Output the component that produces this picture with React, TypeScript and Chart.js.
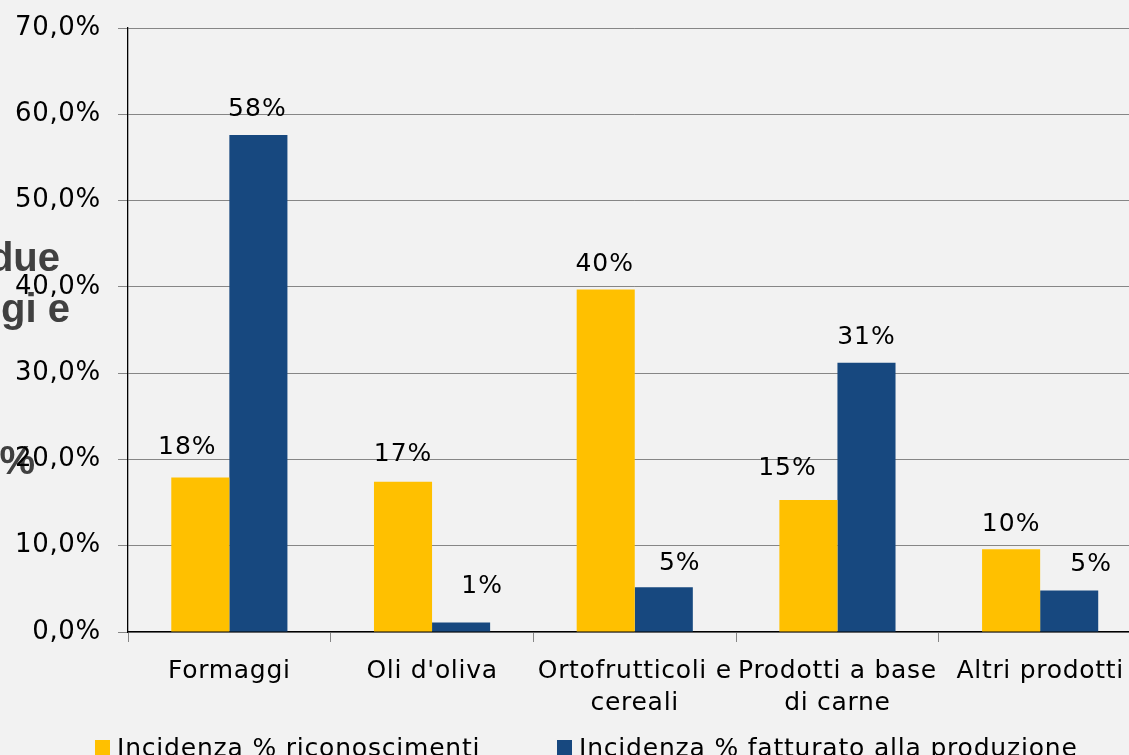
import React, { useEffect, useRef } from "react";
import { Chart, registerables } from "chart.js";

Chart.register(...registerables);

const categories: (string | string[])[] = [
  "Formaggi",
  "Oli d'oliva",
  ["Ortofrutticoli e", "cereali"],
  ["Prodotti a base", "di carne"],
  "Altri prodotti",
];
const seriesNames = [
  "Incidenza % riconoscimenti",
  "Incidenza % fatturato alla produzione",
];
const riconoscimenti = [17.9, 17.4, 39.7, 15.3, 9.6];
const fatturato = [57.6, 1.1, 5.2, 31.2, 4.8];
const yTicksMax = 70;
const yTickStep = 10;

const COLORS = ["#FFC000", "#17487F"];
const FONT = '"DejaVu Sans", Verdana, sans-serif';
const SPACING = "0.7px";

// label offsets (style only): dx, dy of label baseline relative to bar top centre
const labelDx = [
  [-13, 0, -1, -21, 0],
  [-1, 21, 16, 0, 22],
];
const labelDy = [
  [-24, -21, -18, -25, -18],
  [-19, -30, -17, -19, -20],
];

export default function App() {
  const ref = useRef<HTMLCanvasElement>(null);

  useEffect(() => {
    document.body.style.margin = "0";
    document.body.style.background = "#f2f2f2";
    const canvas = ref.current!;

    const spacing = {
      id: "spacing",
      beforeUpdate(chart: any) {
        chart.ctx.letterSpacing = SPACING;
      },
      beforeDraw(chart: any) {
        const ctx = chart.ctx;
        ctx.save();
        ctx.letterSpacing = "0px";
        ctx.fillStyle = "#f2f2f2";
        ctx.fillRect(0, 0, chart.width, chart.height);
        ctx.fillStyle = "#404040";
        ctx.font = 'bold 40px "Liberation Sans", Arial, sans-serif';
        ctx.textAlign = "right";
        ctx.textBaseline = "alphabetic";
        ctx.fillText("due", 60, 271);
        ctx.fillText("gi e", 70, 322);
        ctx.fillText("%", 35, 474);
        ctx.restore();
        ctx.letterSpacing = SPACING;
      },
    };

    const valueLabels = {
      id: "valueLabels",
      afterDatasetsDraw(chart: any) {
        const ctx = chart.ctx;
        ctx.save();
        ctx.letterSpacing = "1px";
        ctx.font = `25px ${FONT}`;
        ctx.fillStyle = "#000";
        ctx.textAlign = "center";
        ctx.textBaseline = "alphabetic";
        chart.data.datasets.forEach((ds: any, di: number) => {
          const meta = chart.getDatasetMeta(di);
          meta.data.forEach((bar: any, i: number) => {
            const v = ds.data[i];
            ctx.fillText(
              Math.round(v) + "%",
              bar.x + labelDx[di][i],
              bar.y + labelDy[di][i]
            );
          });
        });
        ctx.restore();
      },
    };

    const customLegend = {
      id: "customLegend",
      afterDraw(chart: any) {
        const ctx = chart.ctx;
        ctx.save();
        ctx.letterSpacing = "0.8px";
        ctx.font = `25px ${FONT}`;
        ctx.textAlign = "left";
        ctx.textBaseline = "alphabetic";
        const xs = [95, 557];
        chart.data.datasets.forEach((ds: any, di: number) => {
          ctx.fillStyle = ds.backgroundColor;
          ctx.fillRect(xs[di], 740, 15, 15);
          ctx.fillStyle = "#000";
          ctx.fillText(ds.label, xs[di] + 22, 756);
        });
        ctx.restore();
      },
    };

    const chart = new Chart(canvas, {
      type: "bar",
      data: {
        labels: categories,
        datasets: [
          {
            label: seriesNames[0],
            data: riconoscimenti,
            backgroundColor: COLORS[0],
            categoryPercentage: 0.573,
            barPercentage: 1,
          },
          {
            label: seriesNames[1],
            data: fatturato,
            backgroundColor: COLORS[1],
            categoryPercentage: 0.573,
            barPercentage: 1,
          },
        ],
      },
      options: {
        animation: false,
        responsive: false,
        devicePixelRatio: 1,
        layout: { padding: { left: 0, top: 28, right: 8.5, bottom: 68 } },
        plugins: {
          legend: { display: false },
          tooltip: { enabled: false },
        },
        scales: {
          x: {
            afterFit: (s: any) => {
              s.height = 90;
              s.paddingLeft = 0;
              s.paddingRight = 0;
            },
            grid: {
              offset: true,
              drawOnChartArea: false,
              drawTicks: true,
              tickLength: 10,
              color: "#868686",
            },
            border: { color: "#000", width: 1.3 },
            ticks: {
              autoSkip: false,
              maxRotation: 0,
              minRotation: 0,
              padding: 13,
              color: "#000",
              font: { family: FONT, size: 25, lineHeight: 1.3 },
            },
          },
          y: {
            min: 0,
            max: yTicksMax,
            afterFit: (s: any) => {
              s.width = 128;
              s.paddingTop = 0;
              s.paddingBottom = 0;
            },
            grid: {
              color: "#868686",
              tickLength: 10,
              drawTicks: true,
            },
            border: { color: "#000", width: 1.3 },
            ticks: {
              stepSize: yTickStep,
              padding: 17,
              color: "#000",
              font: { family: FONT, size: 26 },
              callback: (v: any) => Number(v).toFixed(1).replace(".", ",") + "%",
            },
          },
        },
      },
      plugins: [spacing, valueLabels, customLegend],
    });

    return () => chart.destroy();
  }, []);

  return (
    <div
      style={{
        position: "fixed",
        left: 0,
        top: 0,
        width: 1129,
        height: 755,
        overflow: "hidden",
        background: "#f2f2f2",
      }}
    >
      <canvas
        ref={ref}
        width={1150}
        height={790}
        style={{ width: 1150, height: 790, display: "block" }}
      />
    </div>
  );
}
